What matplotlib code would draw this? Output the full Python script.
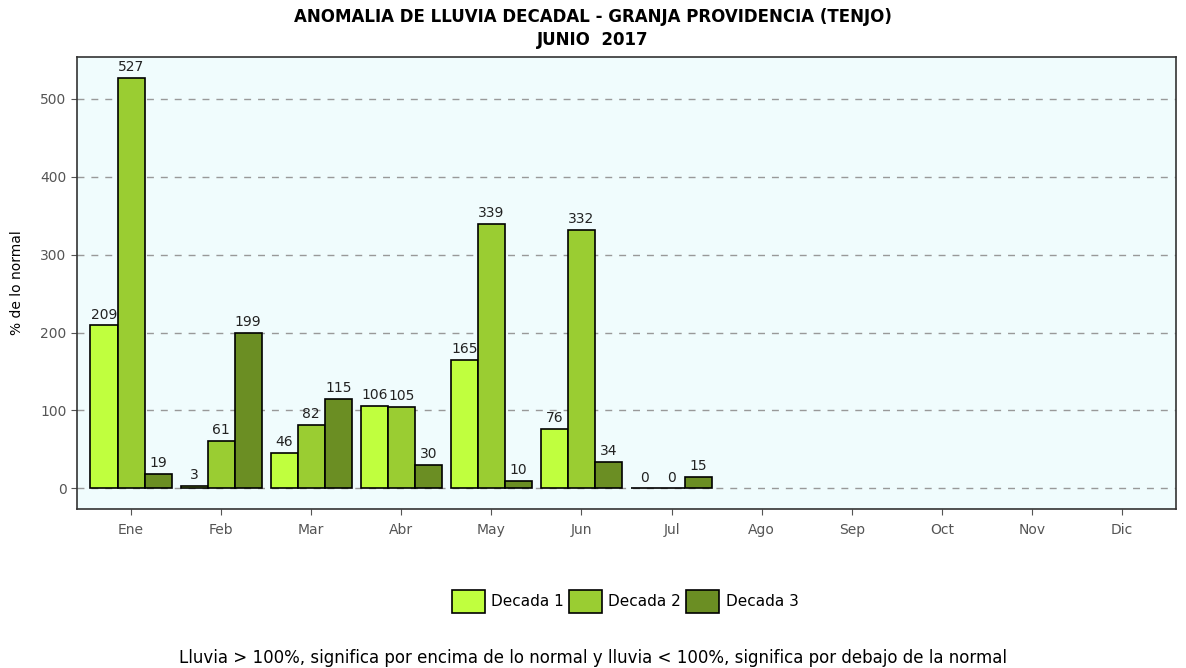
import numpy as np
import matplotlib.pyplot as plt
from matplotlib.patches import Patch

plt.rcParams['font.family'] = ['DejaVu Sans']

# Data
meses = ['Ene', 'Feb', 'Mar', 'Abr', 'May', 'Jun', 'Jul', 'Ago', 'Sep', 'Oct', 'Nov', 'Dic']
decada1 = [209, 3, 46, 106, 165, 76, 0]
decada2 = [527, 61, 82, 105, 339, 332, 0]
decada3 = [19, 199, 115, 30, 10, 34, 15]
series_names = ['Decada 1', 'Decada 2', 'Decada 3']
colores = ['#c0ff3e', '#9acd32', '#6b8e23']

fig = plt.figure(figsize=(11.86, 6.68), dpi=100)
ax = fig.add_axes([0.0649, 0.238, 0.9267, 0.6767])
ax.set_facecolor('#f0fcfd')

width = 0.3
x = np.arange(len(decada1))
for i, (vals, col) in enumerate(zip([decada1, decada2, decada3], colores)):
    pos = x + (i - 1) * width
    ax.bar(pos, vals, width=width, color=col, edgecolor='black', linewidth=1.2, zorder=3)
    for p, v in zip(pos, vals):
        ax.text(p, v + 5, str(v), ha='center', va='bottom', fontsize=10, color='#222222', zorder=4)

ax.set_xlim(-0.6, len(meses) - 0.4)
ax.set_ylim(-26.35, 553.35)
ax.set_xticks(np.arange(len(meses)))
ax.set_xticklabels(meses)
ax.set_yticks([0, 100, 200, 300, 400, 500])
ax.tick_params(axis='both', colors='#555555', labelsize=10, length=4)
ax.tick_params(axis='x', pad=6)
ax.yaxis.grid(True, linestyle=(0, (5, 5)), color='#999999', linewidth=1, zorder=1)
for s in ax.spines.values():
    s.set_color('#333333')
    s.set_linewidth(1.2)

ax.set_ylabel('% de lo normal', fontsize=10, color='black', labelpad=12)

fig.text(0.5, 0.974, 'ANOMALIA DE LLUVIA DECADAL - GRANJA PROVIDENCIA (TENJO)',
         ha='center', va='center', fontsize=12, fontweight='bold')
fig.text(0.5, 0.940, 'JUNIO  2017', ha='center', va='center', fontsize=12, fontweight='bold')

handles = [Patch(facecolor=c, edgecolor='black', linewidth=1.2) for c in colores]
fig.legend(handles, series_names, loc='center', bbox_to_anchor=(0.527, 0.1), ncol=3,
           frameon=False, fontsize=11, handlelength=2.2, handleheight=1.9,
           handletextpad=0.4, columnspacing=0.3)

fig.text(0.5, 0.015, 'Lluvia > 100%, significa por encima de lo normal y lluvia < 100%, significa por debajo de la normal',
         ha='center', va='center', fontsize=12)

fig.savefig('out.png', dpi=100)
